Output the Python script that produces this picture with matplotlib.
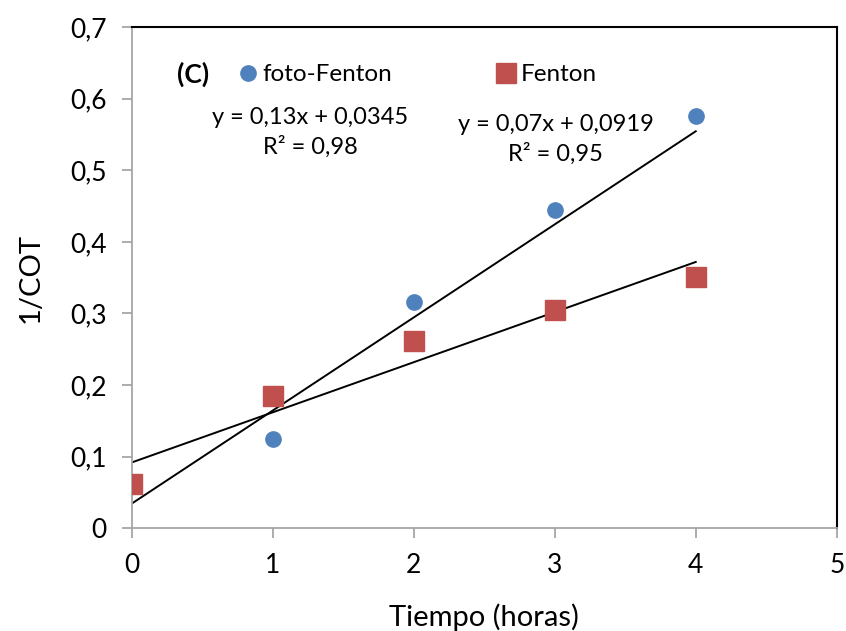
import matplotlib
matplotlib.use("Agg")
import matplotlib.pyplot as plt
import numpy as np

plt.rcParams['font.family'] = ['Lato', 'DejaVu Sans']

# Datos
horas_foto = [1, 2, 3, 4]
cot_foto = [0.125, 0.316, 0.444, 0.576]
horas_fenton = [0, 1, 2, 3, 4]
cot_fenton = [0.061, 0.184, 0.261, 0.305, 0.351]

# Ajustes lineales (pendiente, ordenada)
ajuste_foto = (0.13, 0.0345)
ajuste_fenton = (0.07, 0.0919)
eq_foto = "y = 0,13x + 0,0345\nR² = 0,98"
eq_fenton = "y = 0,07x + 0,0919\nR² = 0,95"

azul = '#4F81BD'
rojo = '#C0504D'
gris = '#A6A6A6'

fig = plt.figure(figsize=(8.46, 6.31), dpi=100)
ax = fig.add_axes([0.156, 0.163, 0.833, 0.794])

ax.plot(horas_foto, cot_foto, 'o', color=azul, markersize=11, label='foto-Fenton', zorder=3)
ax.plot(horas_fenton, cot_fenton, 's', color=rojo, markersize=14, label='Fenton', zorder=3)

# Líneas de tendencia
xl = np.array([0, 4])
ax.plot(xl, ajuste_foto[0] * xl + ajuste_foto[1], color='black', lw=1.4, zorder=2)
ax.plot(xl, ajuste_fenton[0] * xl + ajuste_fenton[1], color='black', lw=1.4, zorder=2)

ax.set_xlim(0, 5)
ax.set_ylim(0, 0.7)
ax.set_xticks(range(6))
ax.set_yticks(np.arange(0, 0.71, 0.1))
ax.set_yticklabels(['0', '0,1', '0,2', '0,3', '0,4', '0,5', '0,6', '0,7'])

for lado in ['left', 'bottom']:
    ax.spines[lado].set_color(gris)
    ax.spines[lado].set_linewidth(1.3)
for lado in ['top', 'right']:
    ax.spines[lado].set_color('black')
    ax.spines[lado].set_linewidth(1.5)

ax.tick_params(axis='both', colors=gris, length=7, width=1.3, direction='out',
               labelsize=19, labelcolor='black', pad=11)

ax.set_xlabel('Tiempo (horas)', fontsize=21, labelpad=18)
ax.set_ylabel('1/COT', fontsize=21, labelpad=19)

ax.text(0.0865, 0.905, '(C)', transform=ax.transAxes, fontsize=19, fontweight='bold',
        ha='center', va='center')
ax.text(0.2525, 0.79, eq_foto, transform=ax.transAxes, fontsize=17,
        ha='center', va='center', linespacing=1.45)
ax.text(0.601, 0.776, eq_fenton, transform=ax.transAxes, fontsize=17,
        ha='center', va='center', linespacing=1.45)

ax.legend(loc='center left', bbox_to_anchor=(0.13, 0.905), ncol=2, frameon=False,
          fontsize=17.5, handletextpad=0.0, columnspacing=4.1, handlelength=1.2,
          borderaxespad=0)

fig.savefig('out.png', dpi=100)
